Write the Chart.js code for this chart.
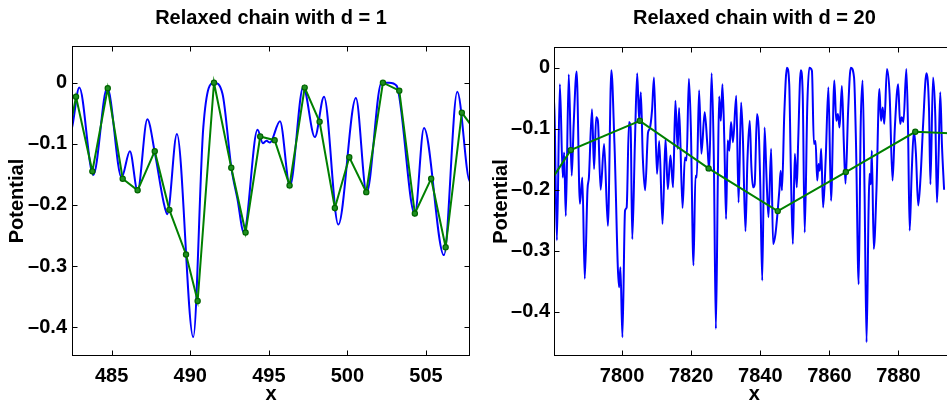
<!DOCTYPE html>
<html>
<head>
<meta charset="utf-8">
<script src="https://cdn.jsdelivr.net/npm/chart.js@4.4.0/dist/chart.umd.min.js"></script>
<style>
  html, body { margin:0; padding:0; width:947px; height:401px; overflow:hidden; background:#fff; }
  canvas { position:absolute; top:0; }
  #chainLeft  { left:0; }
  #chainRight { left:480px; }
</style>
</head>
<body>
<canvas id="chainLeft" width="480" height="401"></canvas>
<canvas id="chainRight" width="480" height="401"></canvas>
<script>
/* ═══════════════════════════════════════
   Relaxed chain plots (d = 1, d = 20)
═══════════════════════════════════════ */

const FONT = "'Liberation Sans', Arial, Helvetica, sans-serif";

/* left panel : d = 1 */
const L_X_TICKS = [485, 490, 495, 500, 505];
const L_Y_TICKS = [0, -0.1, -0.2, -0.3, -0.4];
const L_CURVE_X = [482.30,482.52,482.94,483.83,484.72,485.63,486.16,486.65,487.27,487.75,488.30,488.54,489.15,490.19,490.83,491.51,492.05,492.62,493.00,493.41,494.28,494.62,494.85,495.07,495.71,496.34,497.19,497.93,498.51,499.42,500.54,501.22,502.17,502.65,503.13,504.29,504.87,506.14,506.99,507.80,508.10];
const L_CURVE_Y = [-0.095,-0.068,-0.008,-0.151,-0.008,-0.155,-0.112,-0.177,-0.060,-0.115,-0.195,-0.215,-0.084,-0.416,-0.073,0.000,-0.018,-0.140,-0.190,-0.245,-0.077,-0.099,-0.095,-0.098,-0.063,-0.169,-0.007,-0.089,-0.023,-0.232,-0.025,-0.180,0.000,0.000,-0.005,-0.215,-0.074,-0.282,-0.015,-0.162,-0.150];
const L_CHAIN_X = [481.75,482.73,483.77,484.75,485.70,486.65,487.74,488.67,489.73,490.47,491.51,492.61,493.52,494.45,495.37,496.32,497.28,498.23,499.20,500.12,501.20,502.26,503.30,504.29,505.33,506.25,507.28,508.25];
const L_CHAIN_Y = [-0.155,-0.023,-0.145,-0.009,-0.157,-0.176,-0.112,-0.208,-0.281,-0.357,0.000,-0.139,-0.245,-0.088,-0.094,-0.168,-0.008,-0.064,-0.205,-0.122,-0.179,0.000,-0.013,-0.214,-0.157,-0.269,-0.049,-0.083];

/* right panel : d = 20 */
const R_X_TICKS = [7800, 7820, 7840, 7860, 7880];
const R_Y_TICKS = [0, -0.1, -0.2, -0.3, -0.4];
const R_CURVE_X = [7780.0,7780.47,7781.14,7782.0,7782.85,7783.23,7783.71,7784.57,7785.42,7786.0,7786.85,7787.8,7788.5,7789.2,7790.0,7790.4,7791.3,7791.9,7792.5,7793.0,7793.8,7794.8,7795.9,7796.9,7797.8,
  7799.14,7799.52,7800.10,7800.86,7801.33,7802.0,7802.48,7802.95,7803.71,7804.38,7804.95,7805.43,7806.0,7806.67,7807.52,7808.0,7808.67,7809.24,7810.10,7810.76,7811.71,7812.57,7813.24,7814.0,7814.76,7815.43,7816.10,7816.5,7817.5,
  7818.19,7818.67,7819.34,7819.91,7820.67,7821.24,7821.62,7822.29,7822.96,7823.91,7824.67,7825.24,7825.91,7826.57,7827.15,7827.72,7828.10,7828.58,7829.05,7829.62,7830.10,7830.57,7831.05,7831.53,7832.10,7833.05,7833.72,7834.45,7834.96,7835.72,
  7836.28,7836.95,7837.43,7837.90,7838.38,7839.05,7839.52,7840.0,7840.57,7841.24,7841.81,7842.38,7843.14,7843.71,7844.38,7845.05,7845.52,7845.90,7846.28,7846.95,7847.71,7848.38,7848.86,7849.43,7850.0,7850.57,7850.95,7851.71,7852.28,7852.86,
  7853.62,7854.19,7854.95,7855.52,7856.0,7856.48,7856.86,7857.24,7857.62,7858.19,7858.95,7859.72,7860.48,7861.43,7862.0,7862.48,7862.95,7863.62,7864.19,7864.67,7865.43,7866.19,7867.14,7867.71,7868.48,7869.05,7869.62,7870.19,7870.76,7871.34,
  7871.62,7872.0,7872.28,7872.85,7873.62,7874.47,7874.95,7875.43,7875.90,7876.66,7877.43,7878.28,7878.95,7879.90,7880.47,7880.95,7881.43,7882.28,7882.76,7883.24,7883.81,7884.47,7885.05,7885.71,7886.38,7887.14,7888.09,7888.85,7889.24,7890.0,
  7890.66,7891.14,7891.62,7892.09,7892.57,7893.2];
const R_CURVE_Y = [-0.030,-0.079,-0.283,-0.027,-0.180,-0.139,-0.243,-0.011,-0.177,-0.092,-0.006,-0.223,-0.180,-0.346,-0.199,-0.180,-0.068,-0.166,-0.081,-0.087,-0.200,-0.125,-0.259,-0.004,-0.125,
  -0.360,-0.327,-0.442,-0.234,-0.229,-0.089,-0.098,-0.281,-0.125,-0.009,-0.087,-0.040,-0.147,-0.201,-0.106,-0.100,-0.070,-0.016,-0.174,-0.120,-0.256,-0.117,-0.199,-0.144,-0.196,-0.054,-0.133,-0.066,-0.230,
  -0.147,-0.152,-0.018,-0.098,-0.324,-0.177,-0.180,-0.037,-0.141,-0.073,-0.125,-0.169,-0.009,-0.152,-0.428,-0.180,-0.047,-0.087,-0.027,-0.125,-0.248,-0.119,-0.136,-0.089,-0.122,-0.046,-0.221,-0.057,-0.114,-0.268,
  -0.152,-0.087,-0.163,-0.196,-0.191,-0.076,-0.098,-0.191,-0.349,-0.098,-0.180,-0.245,-0.133,-0.289,-0.273,-0.234,-0.201,-0.169,-0.201,-0.076,0.000,-0.027,-0.169,-0.289,-0.141,-0.196,-0.125,-0.004,-0.043,-0.270,
  -0.059,0.000,-0.005,-0.125,-0.120,-0.185,-0.158,-0.169,-0.133,-0.229,-0.147,-0.032,-0.218,-0.021,-0.087,-0.076,-0.098,-0.030,-0.125,-0.190,-0.070,0.000,-0.016,-0.125,-0.355,-0.098,-0.021,-0.207,-0.450,-0.234,
  -0.174,-0.191,-0.136,-0.297,-0.202,-0.035,-0.087,-0.065,-0.092,-0.002,-0.043,-0.185,-0.098,-0.027,-0.092,-0.081,-0.089,-0.002,-0.098,-0.267,-0.174,-0.103,-0.141,-0.226,-0.180,-0.092,-0.009,-0.070,-0.191,-0.016,
  -0.081,-0.221,-0.141,-0.040,-0.125,-0.200];
const R_CHAIN_X = [7765.1,7785.14,7805.14,7825.05,7845.05,7864.76,7884.86,7904.9];
const R_CHAIN_Y = [-0.310,-0.135,-0.087,-0.165,-0.235,-0.171,-0.105,-0.110];

const pts = (xs, ys) => xs.map((x, i) => ({ x, y: ys[i] }));
// tick labels as drawn by the original plot: long dash for negatives
const fmtY = v => (v === 0 ? '0' : '\u2013' + Math.abs(v).toFixed(1));
const fmtX = v => String(v);
const boldFont = size => ({ family: FONT, size, weight: 'bold' });

/* MATLAB style box with inward ticks on all four sides */
const boxPlugin = {
  id: 'matlabBox',
  afterDatasetsDraw(chart) {
    const { ctx, chartArea: a, scales: { x, y } } = chart;
    const L = Math.round(a.left) + 0.5, R = Math.round(a.right) - 0.5;
    const T = Math.round(a.top) + 0.5,  B = Math.round(a.bottom) - 0.5;
    ctx.save();
    ctx.strokeStyle = '#000';
    ctx.lineWidth = 1;
    ctx.strokeRect(L, T, R - L, B - T);
    ctx.beginPath();
    x.ticks.forEach(t => {
      const px = Math.round(x.getPixelForValue(t.value)) + 0.5;
      ctx.moveTo(px, B); ctx.lineTo(px, B - 5);
      ctx.moveTo(px, T); ctx.lineTo(px, T + 5);
    });
    y.ticks.forEach(t => {
      const py = Math.round(y.getPixelForValue(t.value)) + 0.5;
      ctx.moveTo(L, py); ctx.lineTo(L + 5, py);
      ctx.moveTo(R, py); ctx.lineTo(R - 5, py);
    });
    ctx.stroke();
    ctx.restore();
  }
};

function buildChainChart(id, o) {
  return new Chart(document.getElementById(id), {
    type: 'line',
    data: {
      datasets: [
        { label: 'chain', data: pts(o.chainX, o.chainY), borderColor: '#008000', borderWidth: 2, tension: 0,
          pointRadius: 2.6, pointBackgroundColor: '#1f8f1f', pointBorderColor: '#006400', pointBorderWidth: 1.2 },
        { label: 'potential', data: pts(o.curveX, o.curveY), borderColor: '#0000ff', borderWidth: 2,
          pointRadius: 0, cubicInterpolationMode: 'monotone' }
      ]
    },
    options: {
      responsive: false, animation: false, events: [],
      layout: { padding: { left: 0, right: o.padRight, top: 0, bottom: 0 } },
      plugins: {
        legend: { display: false }, tooltip: { enabled: false },
        title: { display: true, text: o.title, fullSize: false, color: '#000', font: boldFont(20),
                 padding: { top: 6, bottom: o.top - 30 } }
      },
      scales: {
        x: {
          type: 'linear', min: o.xmin, max: o.xmax,
          grid: { display: false, drawTicks: false }, border: { display: false },
          afterBuildTicks: s => { s.ticks = o.xTicks.map(v => ({ value: v })); },
          afterFit: s => { s.height = 401 - o.bottom; },
          ticks: { color: '#000', font: boldFont(20), padding: 8, maxRotation: 0, autoSkip: false, callback: fmtX },
          title: { display: true, text: 'x', color: '#000', font: boldFont(20), padding: { top: 0, bottom: -5 } }
        },
        y: {
          type: 'linear', min: o.ymin, max: o.ymax,
          grid: { display: false, drawTicks: false }, border: { display: false },
          afterBuildTicks: s => { s.ticks = o.yTicks.map(v => ({ value: v })); },
          afterFit: s => { s.width = o.axisW; },
          ticks: { color: '#000', font: boldFont(20), padding: o.yPad, autoSkip: false, callback: fmtY },
          title: { display: true, text: 'Potential', color: '#000', font: boldFont(20), padding: { top: o.yTitlePad, bottom: 0 } }
        }
      }
    },
    plugins: [boxPlugin]
  });
}

window.addEventListener('DOMContentLoaded', () => {
  buildChainChart('chainLeft', {
    title: 'Relaxed chain with d = 1',
    curveX: L_CURVE_X, curveY: L_CURVE_Y, chainX: L_CHAIN_X, chainY: L_CHAIN_Y,
    xTicks: L_X_TICKS, yTicks: L_Y_TICKS,
    xmin: 482.475, xmax: 507.80, ymin: -0.447, ymax: 0.060,
    axisW: 72, padRight: 10, top: 46, bottom: 356, yPad: 5, yTitlePad: 5
  });
  buildChainChart('chainRight', {
    title: 'Relaxed chain with d = 20',
    curveX: R_CURVE_X, curveY: R_CURVE_Y, chainX: R_CHAIN_X, chainY: R_CHAIN_Y,
    xTicks: R_X_TICKS, yTicks: R_Y_TICKS,
    xmin: 7780.3, xmax: 7896.3, ymin: -0.4726, ymax: 0.034,
    axisW: 74, padRight: 0, top: 47, bottom: 356, yPad: 4, yTitlePad: 9.5
  });
});
</script>
</body>
</html>
